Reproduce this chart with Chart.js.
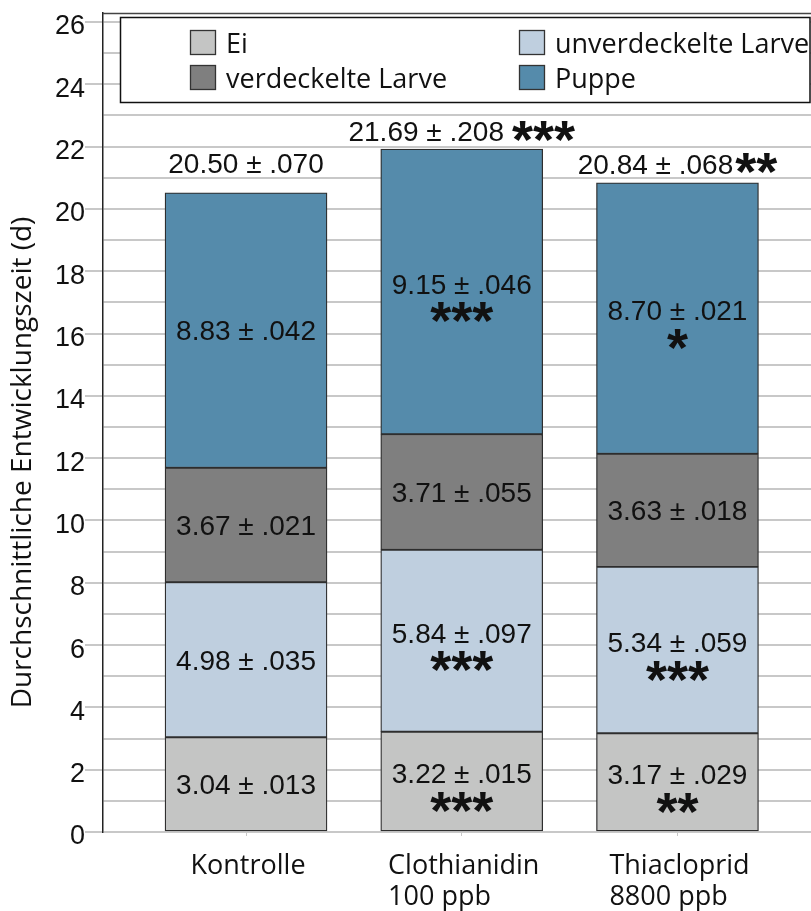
<!DOCTYPE html>
<html><head><meta charset="utf-8">
<script src="https://cdn.jsdelivr.net/npm/chart.js@4.4.1/dist/chart.umd.min.js"></script>
<style>html,body{margin:0;padding:0;background:#fff;overflow:hidden}#wrap{width:811px;height:911px;}</style>
</head><body><div id="wrap"><canvas id="c" width="811" height="911"></canvas></div>
<script>
// ---- data ----
const categories = [["Kontrolle"], ["Clothianidin", "100 ppb"], ["Thiacloprid", "8800 ppb"]];
const seriesNames = ["Ei", "unverdeckelte Larve", "verdeckelte Larve", "Puppe"];
const eiMean = [3.04, 3.22, 3.17];
const eiSE = [".013", ".015", ".029"];
const eiStars = ["", "***", "**"];
const uLarveMean = [4.98, 5.84, 5.34];
const uLarveSE = [".035", ".097", ".059"];
const uLarveStars = ["", "***", "***"];
const vLarveMean = [3.67, 3.71, 3.63];
const vLarveSE = [".021", ".055", ".018"];
const vLarveStars = ["", "", ""];
const puppeMean = [8.83, 9.15, 8.70];
const puppeSE = [".042", ".046", ".021"];
const puppeStars = ["", "***", "*"];
const totalMean = ["20.50", "21.69", "20.84"];
const totalSE = [".070", ".208", ".068"];
const totalStars = ["", "***", "**"];
const yTickValues = [0,1,2,3,4,5,6,7,8,9,10,11,12,13,14,15,16,17,18,19,20,21,22,23,24,25,26];
const yAxisTitle = "Durchschnittliche Entwicklungszeit (d)";

// ---- styles ----
const colors = ["#c4c5c4", "#bfcfdf", "#7f7f7f", "#558bab"];
const totalGap = [30, 18, 19];      // px above bar top (label centre)
const starSpace = [0, 8, 2];        // px between total text and stars
const NUM_SIZE = 28;
const NUM_FONT = NUM_SIZE + 'px "Liberation Sans", Arial, sans-serif';
const STAR_FONT = 'bold 54px "Liberation Sans", Arial, sans-serif';
const SANS = '"Open Sans", "Noto Sans", sans-serif';

const means = [eiMean, uLarveMean, vLarveMean, puppeMean];
const ses = [eiSE, uLarveSE, vLarveSE, puppeSE];
const stars = [eiStars, uLarveStars, vLarveStars, puppeStars];

const datasets = seriesNames.map((name, d) => ({
  label: name,
  data: means[d].map((v, i) => ({x: i, y: v})),
  backgroundColor: colors[d],
  borderColor: '#2e2e2e',
  borderWidth: 1.3,
  borderSkipped: false,
  barThickness: 162
}));

const decor = {
  id: 'decor',
  afterDatasetsDraw(chart) {
    const ctx = chart.ctx, ca = chart.chartArea;
    ctx.save();
    ctx.fillStyle = '#111';
    ctx.font = STAR_FONT;
    const sm = ctx.measureText('*');
    const starOff = (sm.actualBoundingBoxAscent - sm.actualBoundingBoxDescent) / 2;
    const digitHalf = 0.358 * NUM_SIZE;

    // segment labels
    chart.data.datasets.forEach((ds, d) => {
      const meta = chart.getDatasetMeta(d);
      meta.data.forEach((el, i) => {
        const c = (el.y + el.base) / 2;
        const txt = means[d][i].toFixed(2) + ' ± ' + ses[d][i];
        const st = stars[d][i];
        const tc = st ? c - 8 : c;
        ctx.font = NUM_FONT; ctx.textAlign = 'center'; ctx.textBaseline = 'alphabetic';
        ctx.fillText(txt, el.x, tc + digitHalf);
        if (st) {
          ctx.font = STAR_FONT;
          ctx.fillText(st, el.x, c + 21 + starOff);
        }
      });
    });

    // totals
    const last = chart.getDatasetMeta(chart.data.datasets.length - 1);
    last.data.forEach((el, i) => {
      const c = el.y - totalGap[i];
      const txt = totalMean[i] + ' ± ' + totalSE[i];
      ctx.font = NUM_FONT;
      const tw = ctx.measureText(txt).width;
      ctx.font = STAR_FONT;
      const sw = totalStars[i] ? ctx.measureText(totalStars[i]).width : 0;
      const g = totalStars[i] ? starSpace[i] : 0;
      const x0 = el.x - (tw + g + sw) / 2;
      ctx.textAlign = 'left'; ctx.textBaseline = 'alphabetic';
      ctx.font = NUM_FONT;
      ctx.fillText(txt, x0, c + digitHalf);
      if (totalStars[i]) {
        ctx.font = STAR_FONT;
        ctx.fillText(totalStars[i], x0 + tw + g, c + starOff);
      }
    });

    // category labels (left aligned block)
    ctx.font = '27px ' + SANS;
    ctx.textAlign = 'left';
    const xs = chart.scales.x;
    categories.forEach((lines, i) => {
      const cx = xs.getPixelForValue(i);
      const w = Math.max(...lines.map(l => ctx.measureText(l).width));
      const left = cx - w / 2 + 2;
      lines.forEach((l, k) => ctx.fillText(l, left, ca.bottom + 42 + k * 31));
    });

    // y axis title
    ctx.save();
    ctx.translate(23, (ca.top + ca.bottom) / 2 + 40);
    ctx.rotate(-Math.PI / 2);
    ctx.font = '28px ' + SANS;
    ctx.textAlign = 'center'; ctx.textBaseline = 'middle';
    ctx.fillText(yAxisTitle, 0, 0);
    ctx.restore();

    // top frame line
    ctx.strokeStyle = '#444'; ctx.lineWidth = 1.5;
    ctx.beginPath(); ctx.moveTo(ca.left, ca.top + 0.5); ctx.lineTo(ca.right, ca.top + 0.5); ctx.stroke();

    // legend
    ctx.fillStyle = '#fff';
    ctx.fillRect(120, 17, 690, 85);
    ctx.strokeStyle = '#111'; ctx.lineWidth = 1.5;
    ctx.strokeRect(120.5, 17.5, 689.5, 85);
    const colX = [190, 519], rowY = [30, 65];
    ctx.font = '27px ' + SANS;
    ctx.textAlign = 'left'; ctx.textBaseline = 'alphabetic';
    chart.data.datasets.forEach((ds, d) => {
      const sx = colX[d % 2], sy = rowY[Math.floor(d / 2)];
      ctx.fillStyle = ds.backgroundColor;
      ctx.fillRect(sx, sy, 26, 25);
      ctx.strokeStyle = '#333'; ctx.lineWidth = 1.3;
      ctx.strokeRect(sx + 0.5, sy + 0.5, 25, 24);
      ctx.fillStyle = '#111';
      ctx.fillText(ds.label, sx + 36, sy + 23);
    });
    ctx.restore();
  }
};

new Chart(document.getElementById('c'), {
  type: 'bar',
  data: {datasets},
  plugins: [decor],
  options: {
    responsive: false,
    animation: false,
    layout: {padding: {top: 13, right: 0, left: 0, bottom: 0}},
    plugins: {legend: {display: false}, tooltip: {enabled: false}},
    scales: {
      x: {
        type: 'linear', stacked: true, min: -0.663, max: 2.619, offset: false,
        afterBuildTicks: s => { s.ticks = categories.map((_, i) => ({value: i})); },
        ticks: {display: false},
        grid: {offset: false, drawOnChartArea: false, drawTicks: true, tickLength: 4, color: '#c8c8c8'},
        border: {display: false},
        afterFit: s => { s.height = 79; s.paddingLeft = 0; s.paddingRight = 0; }
      },
      y: {
        type: 'linear', stacked: true, min: 0, max: 26.29,
        afterBuildTicks: s => { s.ticks = yTickValues.map(v => ({value: v})); },
        ticks: {
          autoSkip: false, padding: 0, labelOffset: 5, color: '#111',
          font: {family: '"Liberation Sans", Arial, sans-serif', size: 27},
          callback: v => (v % 2 === 0 ? String(v) : '')
        },
        grid: {
          color: '#c8c8c8', lineWidth: 2, tickLength: 18,
          tickColor: c => (c.tick && c.tick.value % 2 === 0) ? '#c8c8c8' : 'rgba(0,0,0,0)'
        },
        border: {color: '#222', width: 1.5},
        afterFit: s => { s.width = 103; s.paddingTop = 0; s.paddingBottom = 0; }
      }
    }
  }
});
</script>
</body></html>
